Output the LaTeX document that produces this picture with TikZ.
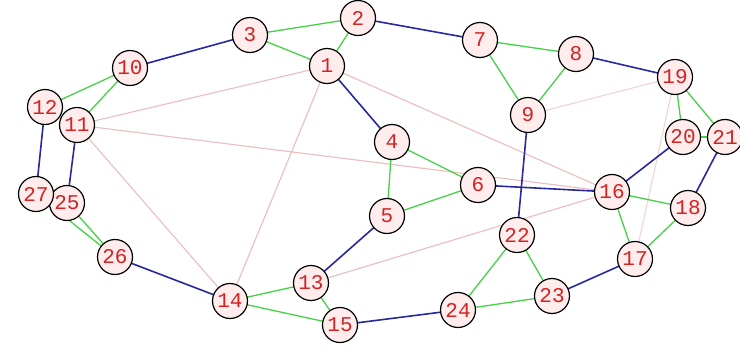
\documentclass[tikz,border=0pt]{standalone}
\usepackage{fontspec}
\usetikzlibrary{backgrounds}
\newfontfamily\nodefont{Liberation Mono}
\definecolor{eblue}{RGB}{40,40,160}
\definecolor{egreen}{RGB}{70,210,70}
\definecolor{epink}{RGB}{234,190,190}
\definecolor{epinkfaint}{RGB}{242,212,212}
\definecolor{nfill}{RGB}{255,236,236}
\definecolor{ntext}{RGB}{210,35,35}
\tikzset{
  vtx/.style={circle,draw=black,line width=1.2pt,fill=nfill,minimum size=35pt,inner sep=0pt,
    font=\nodefont\fontsize{21}{21}\selectfont,text=ntext},
  be/.style={draw=eblue,line width=1.6pt},
  ge/.style={draw=egreen,line width=1.3pt},
  pe/.style={draw=epink,line width=1.1pt},
  pf/.style={draw=epinkfaint,line width=1.1pt},
}
\begin{document}
\begin{tikzpicture}[x=1pt,y=-1pt]
\useasboundingbox (0,0) rectangle (740,351);
% nodes
\node[vtx] (n1) at (327,66) {1};
\node[vtx] (n2) at (358,18) {2};
\node[vtx] (n3) at (250,35) {3};
\node[vtx] (n4) at (392,142) {4};
\node[vtx] (n5) at (387,216) {5};
\node[vtx] (n6) at (478,185) {6};
\node[vtx] (n7) at (480,40) {7};
\node[vtx] (n8) at (576,54) {8};
\node[vtx] (n9) at (528,115) {9};
\node[vtx] (n10) at (130,68) {10};
\node[vtx] (n11) at (77,125) {11};
\node[vtx] (n12) at (45,107) {12};
\node[vtx] (n13) at (311,283) {13};
\node[vtx] (n14) at (230,301) {14};
\node[vtx] (n15) at (340,325) {15};
\node[vtx] (n16) at (612,192) {16};
\node[vtx] (n17) at (635,259) {17};
\node[vtx] (n18) at (688,208) {18};
\node[vtx] (n19) at (675,77) {19};
\node[vtx] (n20) at (683,137) {20};
\node[vtx] (n21) at (725,137) {21};
\node[vtx] (n22) at (517,235) {22};
\node[vtx] (n23) at (552,296) {23};
\node[vtx] (n24) at (458,310) {24};
\node[vtx] (n25) at (67,203) {25};
\node[vtx] (n26) at (115,257) {26};
\node[vtx] (n27) at (36,194) {27};
\begin{scope}[on background layer]
\fill[white] (0,0) rectangle (740,351);
% pink edges
\draw[pe] (n1.center) -- (n11.center);
\draw[pe] (n1.center) -- (n14.center);
\draw[pe] (n11.center) -- (n14.center);
\draw[pe] (n11.center) -- (n16.center);
\draw[pe] (n1.center) -- (n16.center);
\draw[pe] (n13.center) -- (n16.center);
\draw[pf] (n9.center) -- (n19.center);
\draw[pf] (n19.center) -- (n17.center);
% green edges
\draw[ge] (n3.center) -- (n2.center);
\draw[ge] (n3.center) -- (n1.center);
\draw[ge] (n1.center) -- (n2.center);
\draw[ge] (n10.center) -- (n12.center);
\draw[ge] (n10.center) -- (n11.center);
\draw[ge] (n7.center) -- (n8.center);
\draw[ge] (n7.center) -- (n9.center);
\draw[ge] (n8.center) -- (n9.center);
\draw[ge] (n19.center) -- (n20.center);
\draw[ge] (n19.center) -- (n21.center);
\draw[ge] (n20.center) -- (n21.center);
\draw[ge] (n4.center) -- (n6.center);
\draw[ge] (n4.center) -- (n5.center);
\draw[ge] (n5.center) -- (n6.center);
\draw[ge] (n25.center) -- (n26.center);
\draw[ge] (n27.center) -- (n26.center);
\draw[ge] (n14.center) -- (n13.center);
\draw[ge] (n14.center) -- (n15.center);
\draw[ge] (n13.center) -- (n15.center);
\draw[ge] (n16.center) -- (n18.center);
\draw[ge] (n16.center) -- (n17.center);
\draw[ge] (n17.center) -- (n18.center);
\draw[ge] (n22.center) -- (n23.center);
\draw[ge] (n22.center) -- (n24.center);
\draw[ge] (n23.center) -- (n24.center);
% blue edges
\draw[be] (n3.center) -- (n10.center);
\draw[be] (n2.center) -- (n7.center);
\draw[be] (n8.center) -- (n19.center);
\draw[be] (n1.center) -- (n4.center);
\draw[be] (n12.center) -- (n27.center);
\draw[be] (n11.center) -- (n25.center);
\draw[be] (n26.center) -- (n14.center);
\draw[be] (n9.center) -- (n22.center);
\draw[be] (n6.center) -- (n16.center);
\draw[be] (n5.center) -- (n13.center);
\draw[be] (n15.center) -- (n24.center);
\draw[be] (n23.center) -- (n17.center);
\draw[be] (n20.center) -- (n16.center);
\draw[be] (n21.center) -- (n18.center);
\end{scope}
\end{tikzpicture}
\end{document}
